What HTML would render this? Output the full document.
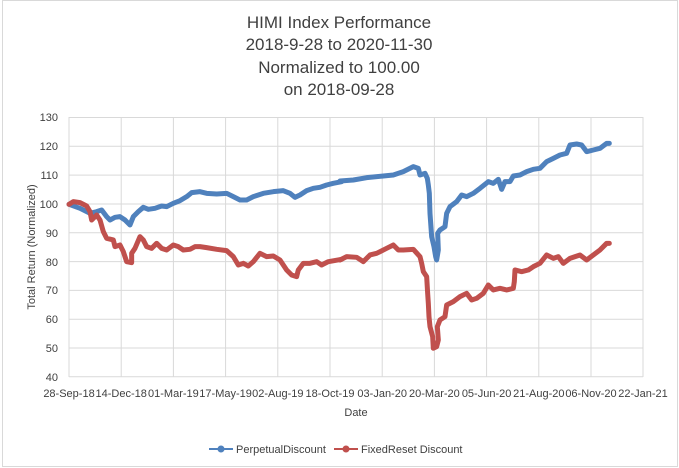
<!DOCTYPE html>
<html><head><style>body{margin:0;background:#fff}svg{display:block;font-family:"Liberation Sans",sans-serif}</style></head><body>
<svg width="679" height="468" viewBox="0 0 679 468">
<rect x="2.5" y="0.5" width="675" height="466" fill="#fff" stroke="#d9d9d9"/>
<g font-size="17" fill="#404040" text-anchor="middle">
<text x="339" y="28">HIMI Index Performance</text>
<text x="339" y="50">2018-9-28 to 2020-11-30</text>
<text x="339" y="73">Normalized to 100.00</text>
<text x="339" y="95">on 2018-09-28</text>
</g>
<g stroke="#d9d9d9" stroke-width="1">
<line x1="69" x2="643" y1="117.5" y2="117.5"/><line x1="69" x2="643" y1="146.3" y2="146.3"/><line x1="69" x2="643" y1="175.1" y2="175.1"/><line x1="69" x2="643" y1="204" y2="204"/><line x1="69" x2="643" y1="232.8" y2="232.8"/><line x1="69" x2="643" y1="261.6" y2="261.6"/><line x1="69" x2="643" y1="290.4" y2="290.4"/><line x1="69" x2="643" y1="319.2" y2="319.2"/><line x1="69" x2="643" y1="348" y2="348"/><line x1="69" x2="643" y1="376.8" y2="376.8"/>
<line x1="69" x2="69" y1="117" y2="377"/><line x1="121.2" x2="121.2" y1="117" y2="377"/><line x1="173.4" x2="173.4" y1="117" y2="377"/><line x1="225.6" x2="225.6" y1="117" y2="377"/><line x1="277.8" x2="277.8" y1="117" y2="377"/><line x1="330" x2="330" y1="117" y2="377"/><line x1="382.2" x2="382.2" y1="117" y2="377"/><line x1="434.4" x2="434.4" y1="117" y2="377"/><line x1="486.6" x2="486.6" y1="117" y2="377"/><line x1="538.8" x2="538.8" y1="117" y2="377"/><line x1="591" x2="591" y1="117" y2="377"/><line x1="643" x2="643" y1="117" y2="377"/>
</g>
<g font-size="11" fill="#404040" text-anchor="end">
<text x="58" y="121">130</text><text x="58" y="150">120</text><text x="58" y="179">110</text><text x="58" y="208">100</text><text x="58" y="237">90</text><text x="58" y="266">80</text><text x="58" y="294">70</text><text x="58" y="323">60</text><text x="58" y="352">50</text><text x="58" y="381">40</text>
</g>
<g font-size="11" fill="#404040" text-anchor="middle">
<text x="69" y="397">28-Sep-18</text><text x="121.2" y="397">14-Dec-18</text><text x="173.4" y="397">01-Mar-19</text><text x="225.6" y="397">17-May-19</text><text x="277.8" y="397">02-Aug-19</text><text x="330" y="397">18-Oct-19</text><text x="382.2" y="397">03-Jan-20</text><text x="434.4" y="397">20-Mar-20</text><text x="486.6" y="397">05-Jun-20</text><text x="538.8" y="397">21-Aug-20</text><text x="591" y="397">06-Nov-20</text><text x="643" y="397">22-Jan-21</text>
<text x="356" y="416">Date</text>
<text transform="translate(35,247) rotate(-90)">Total Return (Normalized)</text>
</g>
<g fill="none" stroke-linejoin="round" stroke-linecap="round" stroke-width="15">
<g transform="translate(0,100) scale(0.3333)">
<polyline stroke="#4f81bd" points="207,313 240,325 270,340 290,335 305,330 320,350 330,360 345,352 360,350 375,360 390,375 400,350 415,335 430,322 445,328 465,325 485,318 500,320 520,310 540,302 560,290 575,278 600,275 620,280 650,282 680,280 700,290 720,300 740,300 760,290 790,280 820,275 850,272 870,280 885,292 900,285 920,272 940,265 960,262 980,255 1000,250 1025,245"/>
<polyline stroke="#c0504d" points="207,313 220,305 240,308 260,318 270,335 275,360 290,345 300,360 310,395 320,415 340,420 345,440 360,435 370,455 380,485 395,488 395,460 405,445 420,410 430,420 440,440 455,445 470,430 485,445 500,450 520,435 535,440 550,450 570,448 585,440 600,440 620,443 650,448 680,452 700,470 715,495 730,490 745,498 760,485 780,460 800,470 820,468 840,480 860,510 875,525 890,530 895,510 910,490 930,490 950,485 965,495 985,485 1025,478"/>
</g>
<g transform="translate(340,100) scale(0.3333)">
<polyline stroke="#4f81bd" points="0,243 40,240 80,233 130,228 160,225 190,215 220,200 235,205 240,225 255,220 262,235 265,255 268,280 270,340 275,410 282,440 287,470 290,480 295,450 293,400 300,390 315,380 320,340 330,320 350,305 365,285 380,290 400,280 420,265 445,245 460,250 475,238 485,268 495,245 510,245 520,228 540,225 560,215 580,208 600,205 620,185 640,175 660,165 680,160 690,135 710,132 725,135 740,155 760,150 780,145 800,130 808,130"/>
<polyline stroke="#c0504d" points="0,480 20,470 50,472 70,485 90,465 110,460 140,445 160,435 175,450 190,450 220,448 240,470 245,490 250,515 260,530 263,580 265,610 267,650 270,680 278,710 280,745 290,740 295,720 292,680 300,660 315,650 320,615 340,605 360,590 380,580 395,600 410,595 430,580 445,555 460,570 480,565 500,570 520,565 523,545 525,510 545,515 565,510 580,500 600,490 620,465 640,475 655,470 670,490 690,475 720,465 740,480 760,465 780,450 800,430 808,430"/>
</g>
</g>
<line x1="209" x2="233" y1="449" y2="449" stroke="#4f81bd" stroke-width="2"/><circle cx="221" cy="449" r="3.5" fill="#4f81bd"/>
<text x="236" y="453" font-size="11" fill="#404040">PerpetualDiscount</text>
<line x1="334" x2="358" y1="449" y2="449" stroke="#c0504d" stroke-width="2"/><circle cx="346" cy="449" r="3.5" fill="#c0504d"/>
<text x="361" y="453" font-size="11" fill="#404040">FixedReset Discount</text>
</svg>
</body></html>
